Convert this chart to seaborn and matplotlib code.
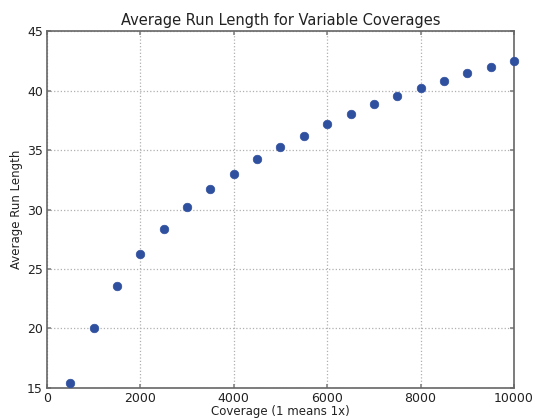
import matplotlib
matplotlib.use("Agg")
import matplotlib.pyplot as plt
import seaborn as sns
import pandas as pd

coverage = [500, 1000, 1500, 2000, 2500, 3000, 3500, 4000, 4500, 5000,
            5500, 6000, 6500, 7000, 7500, 8000, 8500, 9000, 9500, 10000]
avg_run_length = [15.42, 20.06, 23.6, 26.25, 28.39, 30.17, 31.75, 33.0, 34.22, 35.28,
                  36.2, 37.2, 38.05, 38.85, 39.5, 40.2, 40.8, 41.44, 42.0, 42.5]
x_ticks = [0, 2000, 4000, 6000, 8000, 10000]
y_ticks = [15, 20, 25, 30, 35, 40, 45]

sns.set_theme(style="white")
plt.rcParams['font.family'] = ['DejaVu Sans']

df = pd.DataFrame({"Coverage": coverage, "Avg": avg_run_length})

fig = plt.figure(figsize=(5.34, 4.19), dpi=100)
ax = fig.add_axes([0.088, 0.074, 0.8745, 0.852])
sns.scatterplot(data=df, x="Coverage", y="Avg", ax=ax, color="#2f4f9f",
                s=38, edgecolor="#2f4f9f", linewidth=0.5, clip_on=False, zorder=3)

ax.set_xlim(0, 10000)
ax.set_ylim(15, 45)
ax.set_xticks(x_ticks)
ax.set_yticks(y_ticks)
ax.grid(True, linestyle=":", color="#b0b0b0", linewidth=0.9)
for sp in ax.spines.values():
    sp.set_color("#666666")
    sp.set_linewidth(1.2)
ax.tick_params(axis="both", labelsize=9, colors="#222222", length=3, direction="in",
               pad=3, top=True, right=True, bottom=True, left=True, color="#888888")
ax.set_title("Average Run Length for Variable Coverages", fontsize=10.5, color="#222222", pad=4)
ax.set_xlabel("Coverage (1 means 1x)", fontsize=8.5, color="#222222", labelpad=0)
ax.set_ylabel("Average Run Length", fontsize=8.5, color="#222222", labelpad=3)

fig.savefig("out.png", dpi=100)
